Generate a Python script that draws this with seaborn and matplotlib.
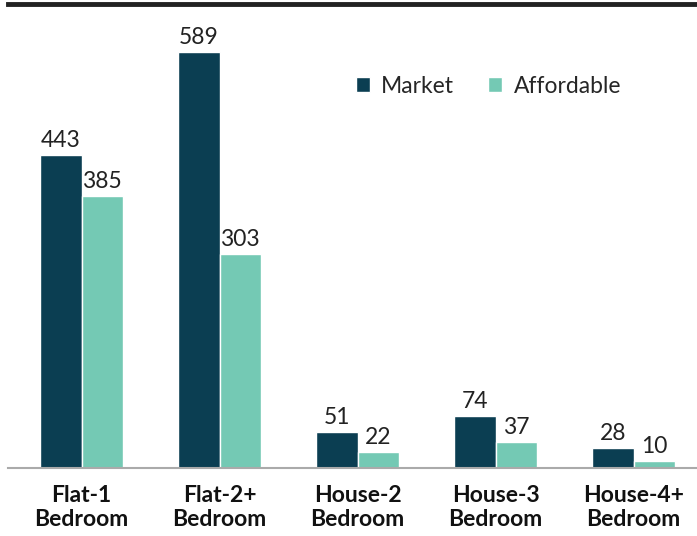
import pandas as pd
import seaborn as sns
import matplotlib.pyplot as plt

categories = ['Flat-1\nBedroom', 'Flat-2+\nBedroom', 'House-2\nBedroom', 'House-3\nBedroom', 'House-4+\nBedroom']
market = [443, 589, 51, 74, 28]
affordable = [385, 303, 22, 37, 10]

df = pd.DataFrame({'Type': categories * 2,
                   'Units': market + affordable,
                   'Tenure': ['Market'] * 5 + ['Affordable'] * 5})

sns.set_style('white')
plt.rcParams['font.family'] = ['Lato', 'DejaVu Sans']

fig = plt.figure(figsize=(6.97, 5.36), dpi=100)
ax = fig.add_axes([8 / 697, 68 / 536, 689 / 697, 464 / 536])

sns.barplot(data=df, x='Type', y='Units', hue='Tenure', width=0.6,
            palette={'Market': '#0b3e52', 'Affordable': '#74c9b4'},
            saturation=1, ax=ax)

for c in ax.containers:
    ax.bar_label(c, fontsize=16.5, color='#222222', padding=3)

ax.set_xlim(-0.533, 4.46)
ax.set_ylim(0, 657)
ax.set_xlabel('')
ax.set_ylabel('')
ax.set_yticks([])
ax.tick_params(axis='x', length=0, pad=12, labelsize=16.5, labelcolor='#111111')
for lab in ax.get_xticklabels():
    lab.set_fontweight('bold')
    lab.set_linespacing(1.2)

for s in ['left', 'right']:
    ax.spines[s].set_visible(False)
ax.spines['bottom'].set_color('#aaaaaa')
ax.spines['bottom'].set_linewidth(1.5)
ax.spines['top'].set_color('#222222')
ax.spines['top'].set_linewidth(3.5)

ax.legend(title=None, loc='upper left', bbox_to_anchor=(0.475, 0.89),
          ncol=2, frameon=False, fontsize=16.5, handlelength=0.6,
          handleheight=0.6, handletextpad=0.5, columnspacing=1.5)

fig.savefig('out.png', dpi=100)
